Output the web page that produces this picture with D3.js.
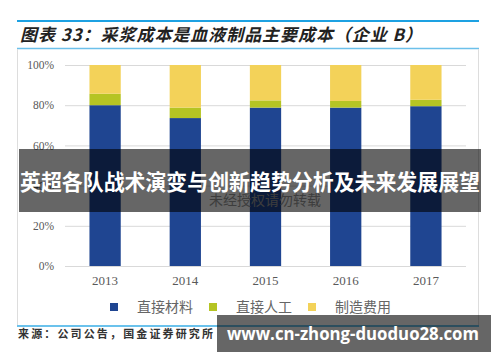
<!DOCTYPE html>
<html>
<head>
<meta charset="utf-8">
<script src="https://d3js.org/d3.v7.min.js"></script>
<style>
  body { margin: 0; background: #fff; }
</style>
</head>
<body>
<svg id="chart" width="500" height="362"></svg>
<script>
// data (share of cost, %)
var years = ["2013", "2014", "2015", "2016", "2017"];
var material = [80.0, 73.6, 78.8, 78.8, 79.5];   // 直接材料
var labour = [5.7, 5.2, 3.6, 3.3, 3.2];          // 直接人工
var overhead = [14.3, 21.2, 17.6, 17.9, 17.3];   // 制造费用
var seriesNames = ["直接材料", "直接人工", "制造费用"];
var seriesColors = ["#1F4591", "#B5C423", "#F3D259"];
var yTicks = [0, 20, 40, 60, 80, 100];

var rows = years.map(function(y, i) {
  return { year: y, "直接材料": material[i], "直接人工": labour[i], "制造费用": overhead[i] };
});

var svg = d3.select("#chart");
var serif = "'Liberation Serif', 'DejaVu Serif', serif";
var cjk = "'Noto Sans CJK SC', sans-serif";

// header lines + title
svg.append("line").attr("x1", 17).attr("x2", 479).attr("y1", 21).attr("y2", 21)
  .attr("stroke", "#1DA1E2").attr("stroke-width", 2);
svg.append("text").attr("x", 20).attr("y", 41)
  .attr("font-family", cjk).attr("font-size", 17).attr("font-weight", "bold")
  .attr("font-style", "italic").attr("fill", "#222")
  .attr("textLength", 402).attr("lengthAdjust", "spacing")
  .text("图表 33：采浆成本是血液制品主要成本（企业 B）");
svg.append("line").attr("x1", 17).attr("x2", 479).attr("y1", 48.5).attr("y2", 48.5)
  .attr("stroke", "#6CC0EA").attr("stroke-width", 1.5);

// frame
svg.append("line").attr("x1", 17.5).attr("x2", 17.5).attr("y1", 49).attr("y2", 325)
  .attr("stroke", "#ddd");
svg.append("line").attr("x1", 478.5).attr("x2", 478.5).attr("y1", 49).attr("y2", 325)
  .attr("stroke", "#ddd");
svg.append("line").attr("x1", 17).attr("x2", 479).attr("y1", 326).attr("y2", 326)
  .attr("stroke", "#3AAEE6").attr("stroke-width", 1.5);

var x = d3.scaleBand().domain(years).range([65, 466]).paddingInner(0.61).paddingOuter(0.305);
var y = d3.scaleLinear().domain([0, 100]).range([266, 65]);

// gridlines
svg.append("g").selectAll("line").data(yTicks).join("line")
  .attr("x1", 65).attr("x2", 466)
  .attr("y1", function(d) { return y(d) + 0.5; })
  .attr("y2", function(d) { return y(d) + 0.5; })
  .attr("stroke", "#d9d9d9");

// y axis labels
var yAxis = svg.append("g").attr("transform", "translate(65,0)")
  .call(d3.axisLeft(y).tickValues(yTicks).tickSize(0).tickPadding(11)
    .tickFormat(function(d) { return d + "%"; }));
yAxis.select(".domain").remove();
yAxis.selectAll("text").attr("font-family", serif).attr("font-size", 11.5).attr("fill", "#595959");

// stacked bars
var stack = d3.stack().keys(seriesNames)(rows);
svg.append("g").selectAll("g").data(stack).join("g")
  .attr("fill", function(d, i) { return seriesColors[i]; })
  .selectAll("rect").data(function(d) { return d; }).join("rect")
  .attr("x", function(d) { return x(d.data.year); })
  .attr("y", function(d) { return y(d[1]); })
  .attr("width", x.bandwidth())
  .attr("height", function(d) { return y(d[0]) - y(d[1]); });

// x axis labels
var xAxis = svg.append("g").attr("transform", "translate(0,266)")
  .call(d3.axisBottom(x).tickSize(0).tickPadding(10));
xAxis.select(".domain").remove();
xAxis.selectAll("text").attr("font-family", serif).attr("font-size", 13).attr("fill", "#595959");

// legend
var legendX = [110, 209, 308];
var legend = svg.append("g").selectAll("g").data(seriesNames).join("g")
  .attr("transform", function(d, i) { return "translate(" + legendX[i] + ",307)"; });
legend.append("rect").attr("x", 0).attr("y", -4).attr("width", 8).attr("height", 8)
  .attr("fill", function(d, i) { return seriesColors[i]; });
legend.append("text").attr("x", 27).attr("y", 5)
  .attr("font-family", cjk).attr("font-size", 14).attr("fill", "#666")
  .text(function(d) { return d; });

// faint in-chart watermark
svg.append("text").attr("x", 265).attr("y", 205).attr("text-anchor", "middle")
  .attr("font-family", cjk).attr("font-size", 14).attr("fill", "#999")
  .text("未经授权请勿转载");

// source
svg.append("text").attr("x", 18).attr("y", 338)
  .attr("font-family", cjk).attr("font-size", 11).attr("font-weight", "bold").attr("fill", "#333")
  .attr("textLength", 195).attr("lengthAdjust", "spacing")
  .text("来源：公司公告，国金证券研究所");

// overlay banner
svg.append("rect").attr("x", 19).attr("y", 149).attr("width", 462).attr("height", 63)
  .attr("fill", "rgba(0,0,0,0.6)");
svg.append("text").attr("x", 20).attr("y", 190)
  .attr("font-family", cjk).attr("font-size", 21.5).attr("font-weight", "bold").attr("fill", "#fff")
  .attr("textLength", 460).attr("lengthAdjust", "spacingAndGlyphs")
  .text("英超各队战术演变与创新趋势分析及未来发展展望");

// bottom-right site banner
svg.append("rect").attr("x", 217).attr("y", 315).attr("width", 274).attr("height", 37)
  .attr("fill", "rgba(0,0,0,0.6)");
svg.append("text").attr("x", 227).attr("y", 340)
  .attr("font-family", "'Open Sans', 'DejaVu Sans', sans-serif").attr("font-size", 18)
  .attr("font-weight", "bold").attr("fill", "#fff")
  .attr("textLength", 252).attr("lengthAdjust", "spacingAndGlyphs")
  .text("www.cn-zhong-duoduo28.com");
</script>
</body>
</html>
